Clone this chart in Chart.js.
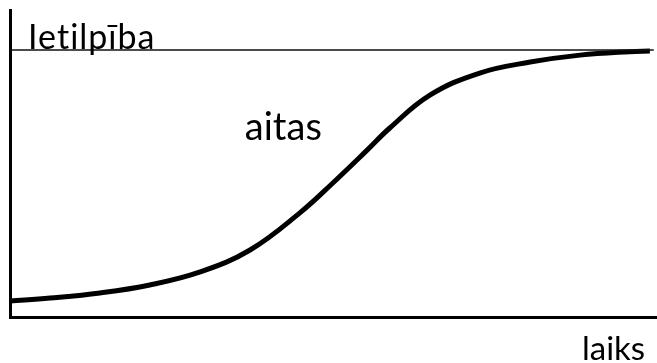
<!DOCTYPE html>
<html>
<head>
<meta charset="utf-8">
<script src="https://cdn.jsdelivr.net/npm/chart.js@4/dist/chart.umd.min.js"></script>
<style>
  html, body { margin: 0; padding: 0; background: #fff; }
  #wrap { width: 657px; height: 363px; position: relative; }
</style>
</head>
<body>
<div id="wrap"><canvas id="logisticChart"></canvas></div>
<script>
// time axis (0..100) and sheep numbers (carrying capacity = 100)
const timeSteps   = [0, 6.2, 13.9, 21.6, 29.4, 37.1, 44.8, 49.9, 55.2, 58.7, 64.9, 72.6, 80.4, 88.1, 95.8, 98.9];
const sheepValues = [6.0, 7.1, 9.0, 12.0, 16.9, 25.1, 39.0, 50.2, 62.5, 70.8, 83.1, 91.4, 95.5, 98.1, 99.4, 99.6];
const capacityTimes  = [0, 99.5];
const capacityValues = [100, 100];

const capacityLabel = 'Ietilpība';
const sheepLabel = 'aitas';
const timeLabel = 'laiks';

const FONT = 'Lato, "Open Sans", sans-serif';

// draws the three free-floating labels
const labelsPlugin = {
    id: 'freeLabels',
    afterDatasetsDraw(chart) {
        const ctx = chart.ctx;
        const x = chart.scales.x, y = chart.scales.y;
        ctx.save();
        ctx.fillStyle = '#000';
        ctx.textAlign = 'left';
        ctx.textBaseline = 'alphabetic';
        ctx.textRendering = 'optimizeSpeed'; // no "ti" ligature
        ctx.letterSpacing = '1px';

        ctx.font = '34px ' + FONT;
        ctx.fillText(capacityLabel, x.getPixelForValue(2.8), y.getPixelForValue(100) - 1);

        ctx.letterSpacing = '0px';
        ctx.font = '38px ' + FONT;
        ctx.fillText(sheepLabel, x.getPixelForValue(36.3), y.getPixelForValue(66.3));

        ctx.font = '33px ' + FONT;
        ctx.fillText(timeLabel, 582, 360);
        ctx.restore();
    }
};

const toPoints = (xs, ys) => xs.map((t, i) => ({ x: t, y: ys[i] }));

new Chart(document.getElementById('logisticChart').getContext('2d'), {
    type: 'line',
    data: {
        datasets: [
            {
                label: capacityLabel,
                data: toPoints(capacityTimes, capacityValues),
                borderColor: '#111',
                borderWidth: 1.5,
                pointRadius: 0
            },
            {
                label: sheepLabel,
                data: toPoints(timeSteps, sheepValues),
                borderColor: '#000',
                borderWidth: 5,
                pointRadius: 0,
                tension: 0.4
            }
        ]
    },
    options: {
        responsive: true,
        maintainAspectRatio: false,
        animation: false,
        layout: { padding: { left: 10, top: 10, right: 0, bottom: 46 } },
        plugins: { legend: { display: false }, tooltip: { enabled: false } },
        scales: {
            x: {
                type: 'linear', min: 0, max: 100,
                grid: { display: false, drawTicks: false, tickLength: 0 },
                ticks: { display: false },
                border: { display: true, color: '#000', width: 3 }
            },
            y: {
                min: 0, max: 115,
                grid: { display: false, drawTicks: false, tickLength: 0 },
                ticks: { display: false },
                border: { display: true, color: '#000', width: 3 }
            }
        }
    },
    plugins: [labelsPlugin]
});
</script>
</body>
</html>
